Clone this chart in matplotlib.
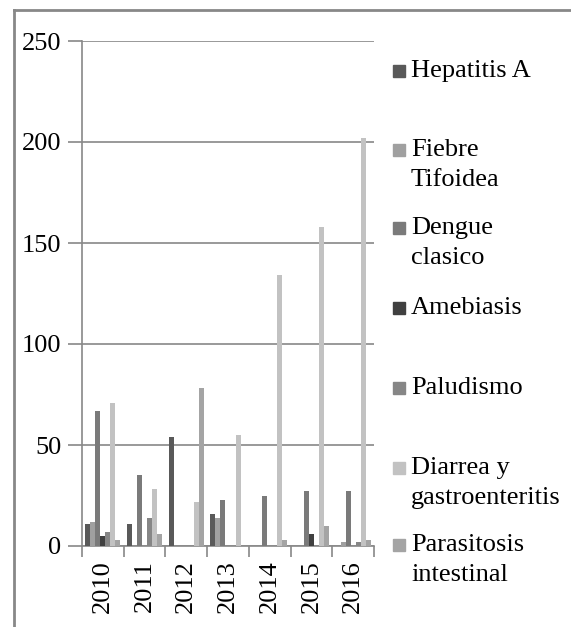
import numpy as np
import matplotlib
matplotlib.use("Agg")
import matplotlib.pyplot as plt
from matplotlib.lines import Line2D
from matplotlib.patches import Rectangle

plt.rcParams['font.family'] = ['Liberation Serif', 'DejaVu Serif']

# data
years = ["2010", "2011", "2012", "2013", "2014", "2015", "2016"]
series_names = ["Hepatitis A", "Fiebre\nTifoidea", "Dengue\nclasico", "Amebiasis",
                "Paludismo", "Diarrea y\ngastroenteritis", "Parasitosis\nintestinal"]
hepatitis_a = [11, 11, 54, 16, 0, 0, 0]
fiebre_tifoidea = [12, 0, 0, 14, 0, 0, 2]
dengue = [67, 35, 0, 23, 25, 27, 27]
amebiasis = [5, 0, 0, 0, 0, 6, 0]
paludismo = [7, 14, 0, 0, 0, 0, 2]
diarrea = [71, 28, 22, 55, 134, 158, 202]
parasitosis = [3, 6, 78, 0, 3, 10, 3]

series = [hepatitis_a, fiebre_tifoidea, dengue, amebiasis, paludismo, diarrea, parasitosis]
colors = ["#595959", "#a0a0a0", "#7a7a7a", "#404040", "#868686", "#c2c2c2", "#a4a4a4"]

W, H = 571, 627
fig = plt.figure(figsize=(W / 100, H / 100), dpi=100)
ax = fig.add_axes([82 / W, 1 - 546 / H, (374 - 82) / W, (546 - 41) / H])

x = np.arange(len(years))
bw = 0.12
for i, (vals, c) in enumerate(zip(series, colors)):
    ax.bar(x + (i - 3) * bw, vals, width=bw, color=c, linewidth=0, zorder=3)

grid_c = "#888888"
ax.set_xlim(-0.5, len(years) - 0.5)
ax.set_ylim(0, 250)
ax.set_yticks(np.arange(0, 251, 50))
ax.yaxis.grid(True, color=grid_c, linewidth=1.2, zorder=0)
ax.tick_params(axis="y", length=10, width=1.2, color=grid_c, labelsize=19, pad=5)

ax.set_xticks(np.arange(-0.5, len(years), 1))
ax.set_xticklabels([])
ax.set_xticks(x, minor=True)
ax.set_xticklabels(years, minor=True, rotation=90, fontsize=19)
ax.tick_params(axis="x", which="major", length=8, width=1.2, color=grid_c)
ax.tick_params(axis="x", which="minor", length=0, pad=10)

for s in ["top", "right"]:
    ax.spines[s].set_visible(False)
for s in ["left", "bottom"]:
    ax.spines[s].set_color(grid_c)
    ax.spines[s].set_linewidth(1.2)

# legend, drawn by hand to follow the uneven spacing of the original
# y of the first line of each entry (pixels from top)
legend_y = [71, 150, 228, 308, 388, 468, 545]
line_h = 30
for name, c, yy in zip(series_names, colors, legend_y):
    fig.patches.append(Rectangle((393 / W, 1 - (yy + 6) / H), 12 / W, 12 / H,
                                 transform=fig.transFigure, color=c))
    for k, part in enumerate(name.split("\n")):
        fig.text(411 / W, 1 - (yy + k * line_h) / H, part, fontsize=19,
                 va="center", ha="left")

# frame of the cropped screenshot (top and left only)
fig.lines.append(Line2D([14 / W, 1], [1 - 10 / H, 1 - 10 / H], color="#888888",
                        linewidth=2, transform=fig.transFigure))
fig.lines.append(Line2D([14 / W, 14 / W], [0, 1 - 10 / H], color="#888888",
                        linewidth=2, transform=fig.transFigure))

fig.savefig("out.png", dpi=100)
